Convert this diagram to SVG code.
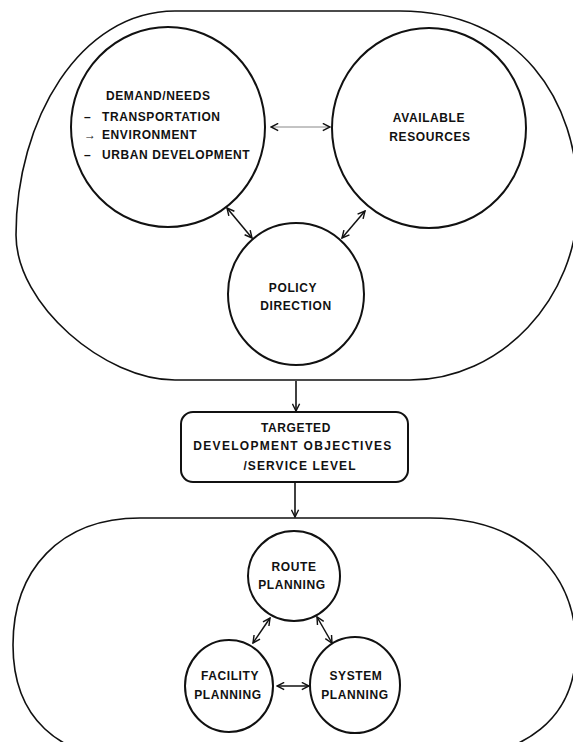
<svg xmlns="http://www.w3.org/2000/svg" width="573" height="742" viewBox="0 0 573 742">
  <style>
    .shape { fill: none; stroke: #111; stroke-width: 1.6; }
    .node { fill: #fff; stroke: #111; stroke-width: 2; }
    .label { font-family: "Liberation Sans", Arial, sans-serif; font-weight: bold; font-size: 12px; fill: #111; letter-spacing: 0.6px; }
    .mid { text-anchor: middle; }
    .link { fill: none; stroke: #111; stroke-width: 1.5; marker-start: url(#head); marker-end: url(#head); }
    .flow { fill: none; stroke: #111; stroke-width: 1.6; marker-end: url(#head); }
  </style>
  <defs>
    <marker id="head" viewBox="0 0 10 10" refX="9" refY="5" markerWidth="9" markerHeight="9" markerUnits="userSpaceOnUse" orient="auto-start-reverse">
      <path d="M1,1 L9,5 L1,9" fill="none" stroke="#111" stroke-width="1.6"/>
    </marker>
  </defs>
  <rect width="573" height="742" fill="#fff"/>

  <!-- upper enclosure: needs, resources and policy -->
  <g id="context">
    <path class="shape" d="M175,11 L400,11 C520,11 578,100 578,200 C578,300 500,380 410,380 L175,380 C105,380 16,305 16,235 C16,120 80,11 175,11 Z"/>
  </g>

  <g id="demand-needs">
    <ellipse class="node" cx="168" cy="127" rx="97" ry="100"/>
    <text class="label" x="106" y="100">DEMAND/NEEDS</text>
    <text class="label" x="84" y="121">–</text>
    <text class="label" x="102" y="121">TRANSPORTATION</text>
    <text class="label" x="84" y="139">→</text>
    <text class="label" x="102" y="139">ENVIRONMENT</text>
    <text class="label" x="84" y="159">–</text>
    <text class="label" x="102" y="159">URBAN DEVELOPMENT</text>
  </g>

  <g id="available-resources">
    <ellipse class="node" cx="429" cy="128" rx="97" ry="100"/>
    <text class="label mid" x="429" y="122">AVAILABLE</text>
    <text class="label mid" x="430" y="141">RESOURCES</text>
  </g>

  <g id="policy-direction">
    <ellipse class="node" cx="296" cy="294" rx="68" ry="71"/>
    <text class="label mid" x="293" y="292">POLICY</text>
    <text class="label mid" x="296" y="310">DIRECTION</text>
  </g>

  <!-- middle box -->
  <g id="targeted-objectives">
    <rect class="node" x="181" y="412" width="227" height="70" rx="12" ry="12"/>
    <text class="label mid" x="296" y="432">TARGETED</text>
    <text class="label mid" x="293" y="450" style="letter-spacing:1.3px">DEVELOPMENT OBJECTIVES</text>
    <text class="label mid" x="300" y="470" style="letter-spacing:1.1px">/SERVICE LEVEL</text>
  </g>

  <!-- lower enclosure: planning activities -->
  <g id="planning">
    <path class="shape" d="M140,518 L430,518 C520,518 576,570 576,648 C576,715 530,760 430,760 L140,760 C55,760 13,715 13,645 C13,570 60,518 140,518 Z"/>
  </g>

  <g id="route-planning">
    <ellipse class="node" cx="294" cy="576" rx="46" ry="45"/>
    <text class="label mid" x="294" y="571">ROUTE</text>
    <text class="label mid" x="292" y="589">PLANNING</text>
  </g>

  <g id="facility-planning">
    <ellipse class="node" cx="229" cy="686" rx="44" ry="46"/>
    <text class="label mid" x="230" y="680">FACILITY</text>
    <text class="label mid" x="228" y="699">PLANNING</text>
  </g>

  <g id="system-planning">
    <ellipse class="node" cx="355" cy="685" rx="45" ry="48"/>
    <text class="label mid" x="356" y="680">SYSTEM</text>
    <text class="label mid" x="355" y="699">PLANNING</text>
  </g>

  <!-- connectors -->
  <g id="connectors">
    <line class="link" x1="271" y1="127" x2="330" y2="127" style="stroke:#888; stroke-width:1"/>
    <line class="link" x1="227" y1="208" x2="252" y2="238"/>
    <line class="link" x1="365" y1="211" x2="342" y2="238"/>
    <line class="flow" x1="296" y1="381" x2="296" y2="411"/>
    <line class="flow" x1="295" y1="482" x2="295" y2="517"/>
    <line class="link" x1="270" y1="618" x2="253" y2="643"/>
    <line class="link" x1="317" y1="617" x2="332" y2="643"/>
    <line class="link" x1="277" y1="686" x2="309" y2="686"/>
  </g>
</svg>
